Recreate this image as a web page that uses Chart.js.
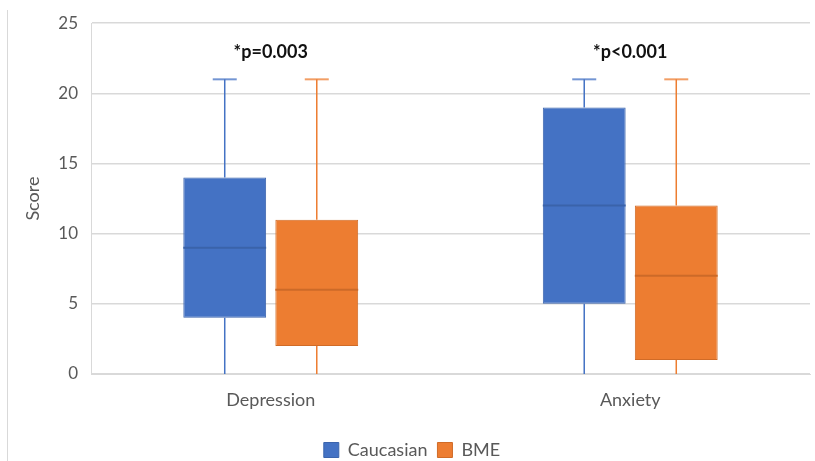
<!DOCTYPE html>
<html>
<head>
<meta charset="utf-8">
<script src="https://cdn.jsdelivr.net/npm/chart.js@4"></script>
<style>
  html, body { margin: 0; padding: 0; background: #fff; }
  #wrap { position: relative; width: 815px; height: 461px; }
  #edge { position: absolute; left: 7px; top: 10px; bottom: 0; border-left: 1px solid #D9D9D9; }
  canvas { position: absolute; left: 0; top: 0; }
</style>
</head>
<body>
<div id="wrap">
  <div id="edge"></div>
  <canvas id="boxChart" width="815" height="461"></canvas>
</div>
<script>
const categories = ['Depression', 'Anxiety'];
const groups = ['Caucasian', 'BME'];
// min, q1, median, q3, max per category
const caucasianMin = [0, 0];
const caucasianQ1 = [4, 5];
const caucasianMedian = [9, 12];
const caucasianQ3 = [14, 19];
const caucasianMax = [21, 21];
const bmeMin = [0, 0];
const bmeQ1 = [2, 1];
const bmeMedian = [6, 7];
const bmeQ3 = [11, 12];
const bmeMax = [21, 21];
const pLabels = ['*p=0.003', '*p<0.001'];
const yTicks = [0, 5, 10, 15, 20, 25];

const fillColors = ['#4472C4', '#ED7D31'];
const edgeColors = ['#3B64AD', '#D06B27'];
const medianColors = ['#3A63AA', '#CC6A28'];
const stats = [
    { min: caucasianMin, q1: caucasianQ1, med: caucasianMedian, q3: caucasianQ3, max: caucasianMax },
    { min: bmeMin, q1: bmeQ1, med: bmeMedian, q3: bmeQ3, max: bmeMax }
];

// whiskers, caps, medians and p-value labels on top of the floating bars
const boxPlotPlugin = {
    id: 'boxPlot',
    afterDatasetsDraw(chart) {
        const c = chart.ctx;
        const y = chart.scales.y;
        const x = chart.scales.x;
        stats.forEach((s, di) => {
            const meta = chart.getDatasetMeta(di);
            meta.data.forEach((bar, i) => {
                const cx = bar.x;
                const half = bar.width / 2;
                const yMin = y.getPixelForValue(s.min[i]);
                const yQ1 = y.getPixelForValue(s.q1[i]);
                const yQ3 = y.getPixelForValue(s.q3[i]);
                const yMax = y.getPixelForValue(s.max[i]);
                const yMed = y.getPixelForValue(s.med[i]);
                c.save();
                c.strokeStyle = fillColors[di];
                c.lineWidth = 1.5;
                c.beginPath();
                c.moveTo(cx, yMin); c.lineTo(cx, yQ1);
                c.moveTo(cx, yQ3); c.lineTo(cx, yMax);
                c.stroke();
                c.globalAlpha = 0.75;
                c.lineWidth = 2;
                c.beginPath();
                c.moveTo(cx - 12, yMax); c.lineTo(cx + 12, yMax);
                c.stroke();
                c.globalAlpha = 1;
                c.strokeStyle = medianColors[di];
                c.lineWidth = 2;
                c.beginPath();
                c.moveTo(cx - half, yMed); c.lineTo(cx + half, yMed);
                c.stroke();
                c.restore();
            });
        });
        c.save();
        c.fillStyle = '#111';
        c.font = 'bold 18px Lato';
        c.textAlign = 'center';
        c.textBaseline = 'middle';
        pLabels.forEach((t, i) => {
            c.fillText(t, x.getPixelForValue(i), y.getPixelForValue(22.9));
        });
        c.restore();
    }
};

const ctx = document.getElementById('boxChart').getContext('2d');
const boxChart = new Chart(ctx, {
    type: 'bar',
    data: {
        labels: categories,
        datasets: groups.map((g, di) => ({
            label: g,
            data: stats[di].q1.map((q, i) => [q, stats[di].q3[i]]),
            backgroundColor: fillColors[di],
            borderColor: edgeColors[di],
            borderWidth: 1,
            borderSkipped: false,
            barPercentage: 0.9,
            categoryPercentage: 0.512
        }))
    },
    options: {
        responsive: false,
        animation: false,
        layout: { padding: { left: 14, right: 5, top: 7, bottom: -8 } },
        plugins: {
            tooltip: { enabled: false },
            legend: {
                position: 'bottom',
                labels: {
                    color: '#595959',
                    font: { family: 'Lato', size: 18 },
                    boxWidth: 15,
                    boxHeight: 15,
                    padding: 10
                }
            }
        },
        scales: {
            x: {
                grid: { display: false, drawTicks: false },
                border: { color: '#D9D9D9' },
                ticks: { color: '#595959', font: { family: 'Lato', size: 18 }, padding: 15 },
                afterFit(axis) { axis.height = 57; }
            },
            y: {
                min: 0,
                max: 25,
                afterBuildTicks(axis) { axis.ticks = yTicks.map(v => ({ value: v })); },
                afterFit(axis) { axis.width = 77; },
                grid: { color: '#D9D9D9', lineWidth: 1.5, drawTicks: false },
                border: { display: true, color: '#D9D9D9' },
                ticks: { color: '#595959', font: { family: 'Lato', size: 17 }, padding: 13 },
                title: { display: true, text: 'Score', color: '#595959', font: { family: 'Lato', size: 18 }, padding: { top: 8 } }
            }
        }
    },
    plugins: [boxPlotPlugin]
});
</script>
</body>
</html>
